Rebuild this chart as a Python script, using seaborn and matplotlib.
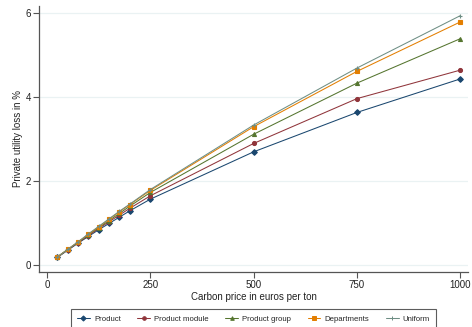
import matplotlib
matplotlib.use("Agg")
import matplotlib.pyplot as plt
import seaborn as sns
import pandas as pd

# Carbon price levels (euros per ton)
prices = [25, 50, 75, 100, 125, 150, 175, 200, 250, 500, 750, 1000]

# Private utility loss (%) by aggregation level of the tax
product = [0.17, 0.34, 0.51, 0.67, 0.83, 0.98, 1.13, 1.28, 1.56, 2.69, 3.63, 4.43]
product_module = [0.18, 0.35, 0.52, 0.69, 0.86, 1.02, 1.18, 1.34, 1.64, 2.89, 3.96, 4.64]
product_group = [0.18, 0.36, 0.53, 0.71, 0.88, 1.05, 1.22, 1.39, 1.72, 3.11, 4.33, 5.39]
departments = [0.18, 0.36, 0.54, 0.72, 0.90, 1.08, 1.26, 1.43, 1.77, 3.29, 4.61, 5.79]
uniform = [0.18, 0.36, 0.54, 0.73, 0.91, 1.09, 1.27, 1.44, 1.79, 3.33, 4.69, 5.94]

series_names = ["Product", "Product module", "Product group", "Departments", "Uniform"]
series_values = [product, product_module, product_group, departments, uniform]

x_ticks = [0, 250, 500, 750, 1000]
y_ticks = [0, 2, 4, 6]

df = pd.DataFrame(
    [(name, p, v) for name, vals in zip(series_names, series_values) for p, v in zip(prices, vals)],
    columns=["series", "price", "loss"],
)

palette = {
    "Product": "#1a476f",
    "Product module": "#90353b",
    "Product group": "#55752f",
    "Departments": "#e37e00",
    "Uniform": "#6e8e84",
}
markers = {
    "Product": "D",
    "Product module": "o",
    "Product group": "^",
    "Departments": "s",
    "Uniform": "+",
}

sns.set_theme(style="white")
plt.rcParams["font.family"] = ["Liberation Sans", "DejaVu Sans"]

fig = plt.figure(figsize=(4.72, 3.27), dpi=100)
ax = fig.add_axes([0.083, 0.168, 0.909, 0.815])

ax.yaxis.grid(True, color="#eaf2f3", linewidth=0.9, zorder=0)
ax.set_axisbelow(True)

for name in series_names:
    sub = df[df["series"] == name]
    sns.lineplot(
        data=sub, x="price", y="loss", color=palette[name], marker=markers[name],
        linewidth=0.75, markersize=2.9, markeredgewidth=0.8,
        markeredgecolor=palette[name], ax=ax, legend=False,
    )

ax.set_xlim(-19, 1019)
ax.set_ylim(-0.18, 6.18)
ax.set_xticks(x_ticks)
ax.set_yticks(y_ticks)
ax.set_xlabel("Carbon price in euros per ton", fontsize=7.0, color="#222222", labelpad=1.5)
ax.set_ylabel("Private utility loss in %", fontsize=7.0, color="#222222", labelpad=2.0)

for side in ["top", "right"]:
    ax.spines[side].set_visible(False)
for side in ["left", "bottom"]:
    ax.spines[side].set_color("#555555")
    ax.spines[side].set_linewidth(0.9)
ax.tick_params(axis="both", which="major", direction="out", length=4, width=0.8,
               color="#555555", labelsize=7.0, labelcolor="#222222", pad=2,
               bottom=True, left=True)

handles = [
    plt.Line2D([], [], color=palette[n], marker=markers[n], markersize=2.6,
               markeredgewidth=0.7, linewidth=0.75)
    for n in series_names
]
leg = fig.legend(
    handles, series_names, loc="upper center", bbox_to_anchor=(0.537, 0.066),
    ncol=5, fontsize=5.6, frameon=True, fancybox=False, edgecolor="#333333",
    handlelength=1.65, columnspacing=2.1, handletextpad=0.55, borderpad=0.8,
)
leg.get_frame().set_linewidth(0.8)

fig.savefig("out.png", dpi=100, facecolor="white")
